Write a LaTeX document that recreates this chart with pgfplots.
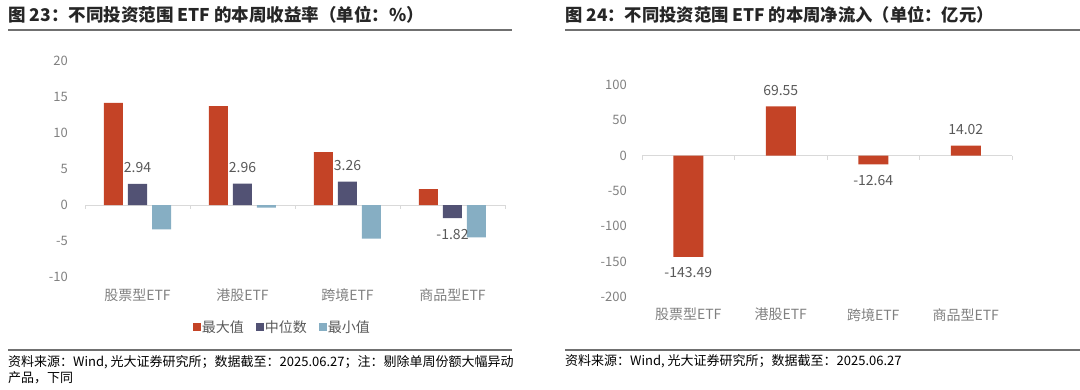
\documentclass[border=0pt]{standalone}
\usepackage{pgfplots}
\pgfplotsset{compat=1.18}
\usepackage{fontspec}
\setmainfont{Noto Sans CJK SC}
\definecolor{cred}{HTML}{C44326}
\definecolor{cmed}{HTML}{525274}
\definecolor{cmin}{HTML}{86AEC3}
\definecolor{tickgray}{HTML}{808080}
\definecolor{labgray}{HTML}{595959}
\definecolor{zerogray}{HTML}{D9D9D9}
\definecolor{rulegray}{HTML}{707070}
\definecolor{titlec}{HTML}{262626}
\newcommand{\fs}[1]{\fontsize{#1}{#1}\selectfont}
\pgfplotsset{
 sqlegend/.style={legend image code/.code={\fill[##1,draw=none] (0pt,-4pt) rectangle (8pt,4pt);}},
 mystyle/.style={
  scale only axis, axis line style={draw=none}, major tick length=0pt,
  xmin=-0.5,xmax=3.5, xtick={0,1,2,3},
  ybar,
  /pgf/number format/assume math mode=true,
  yticklabel style={font=\fs{13}, text=tickgray, inner sep=0pt, anchor=east},
  xticklabel style={font=\fs{14}, text=tickgray, inner sep=0pt, anchor=center, yshift=-18pt},
  xticklabels={股票型ETF,港股ETF,跨境ETF,商品型ETF},
  clip=false,
 }
}
\begin{document}
\begin{tikzpicture}[x=1pt,y=1pt]
\useasboundingbox (0,0) rectangle (1080,389);
% titles and rules
\node[anchor=west, inner sep=0pt, font=\bfseries\fs{17.5}, text=titlec] at (8,374) {图 23：不同投资范围 ETF 的本周收益率（单位：\%）};
\node[anchor=west, inner sep=0pt, font=\bfseries\fs{17.3}, text=titlec] at (565,374) {图 24：不同投资范围 ETF 的本周净流入（单位：亿元）};
\draw[rulegray, line width=1.5pt] (8,359) -- (512,359);
\draw[rulegray, line width=1.5pt] (565,359) -- (1080,359);
\draw[rulegray, line width=1.5pt] (8,39) -- (512,39);
\draw[rulegray, line width=1.5pt] (565,39) -- (1080,39);
\node[anchor=west, inner sep=0pt, font=\fs{13}, text=black] at (8,27) {资料来源：Wind, 光大证券研究所；数据截至：2025.06.27；注：剔除单周份额大幅异动};
\node[anchor=west, inner sep=0pt, font=\fs{13}, text=black] at (8,11) {产品，下同};
\node[anchor=west, inner sep=0pt, font=\fs{13}, text=black] at (565,28) {资料来源：Wind, 光大证券研究所；数据截至：2025.06.27};

% left chart
\begin{axis}[mystyle, at={(85pt,112pt)}, anchor=south west,
  width=420pt, height=216pt,
  ymin=-10, ymax=20, ytick={-10,-5,0,5,10,15,20},
  yticklabel style={xshift=-17pt},
  bar width=19pt,
  legend style={at={(0.469,-0.231)}, anchor=center, draw=none, fill=none,
    font=\fs{14}, text=labgray, legend columns=3, inner sep=0pt,
    nodes={inner sep=1pt},
    /tikz/every even column/.append style={column sep=11pt}},
  legend cell align=left]
\draw[zerogray, line width=1pt] (axis cs:-0.5,0) -- (axis cs:3.5,0);
\draw[zerogray, line width=0.8pt] (axis cs:-0.5,0) -- ([yshift=-4pt]axis cs:-0.5,0);
\draw[zerogray, line width=0.8pt] (axis cs:0.5,0) -- ([yshift=-4pt]axis cs:0.5,0);
\draw[zerogray, line width=0.8pt] (axis cs:1.5,0) -- ([yshift=-4pt]axis cs:1.5,0);
\draw[zerogray, line width=0.8pt] (axis cs:2.5,0) -- ([yshift=-4pt]axis cs:2.5,0);
\draw[zerogray, line width=0.8pt] (axis cs:3.5,0) -- ([yshift=-4pt]axis cs:3.5,0);
\addplot[fill=cred, draw=none, bar shift=-24pt, sqlegend]
  coordinates {(0,14.2) (1,13.75) (2,7.36) (3,2.2)};
\addplot[fill=cmed, draw=none, bar shift=0pt, sqlegend,
  nodes near coords, nodes near coords style={font=\fs{14}, text=labgray, inner sep=0pt, outer ysep=11pt}]
  coordinates {(0,2.94) (1,2.96) (2,3.26) (3,-1.82)};
\addplot[fill=cmin, draw=none, bar shift=24pt, sqlegend]
  coordinates {(0,-3.4) (1,-0.36) (2,-4.67) (3,-4.5)};
\legend{最大值,中位数,最小值}
\end{axis}

% right chart
\begin{axis}[mystyle, at={(642pt,92.3pt)}, anchor=south west,
  width=370pt, height=211.7pt,
  ymin=-200, ymax=100, ytick={-200,-150,-100,-50,0,50,100},
  yticklabel style={xshift=-15pt},
  bar width=30pt]
\draw[zerogray, line width=1pt] (axis cs:-0.5,0) -- (axis cs:3.5,0);
\draw[zerogray, line width=0.8pt] (axis cs:-0.5,0) -- ([yshift=-4pt]axis cs:-0.5,0);
\draw[zerogray, line width=0.8pt] (axis cs:0.5,0) -- ([yshift=-4pt]axis cs:0.5,0);
\draw[zerogray, line width=0.8pt] (axis cs:1.5,0) -- ([yshift=-4pt]axis cs:1.5,0);
\draw[zerogray, line width=0.8pt] (axis cs:2.5,0) -- ([yshift=-4pt]axis cs:2.5,0);
\draw[zerogray, line width=0.8pt] (axis cs:3.5,0) -- ([yshift=-4pt]axis cs:3.5,0);
\addplot[fill=cred, draw=none, bar shift=0pt,
  nodes near coords, nodes near coords style={font=\fs{14}, text=labgray, inner sep=0pt, outer ysep=11pt}]
  coordinates {(0,-143.49) (1,69.55) (2,-12.64) (3,14.02)};
\end{axis}
\end{tikzpicture}
\end{document}
